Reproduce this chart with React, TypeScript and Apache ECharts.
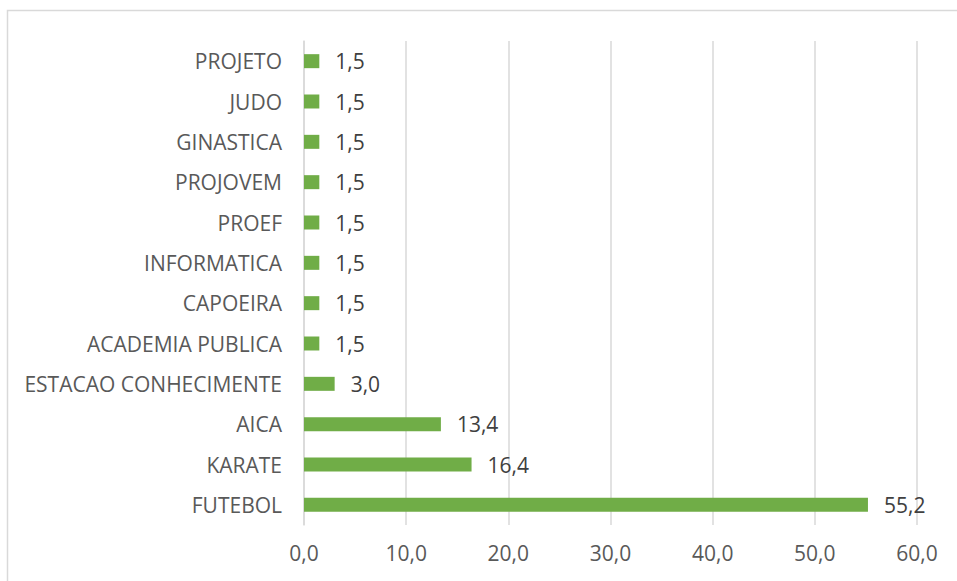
import React, { useEffect, useRef } from "react";
import * as echarts from "echarts";

const categories = [
  "FUTEBOL",
  "KARATE",
  "AICA",
  "ESTACAO CONHECIMENTE",
  "ACADEMIA PUBLICA",
  "CAPOEIRA",
  "INFORMATICA",
  "PROEF",
  "PROJOVEM",
  "GINASTICA",
  "JUDO",
  "PROJETO",
];
const values = [55.2, 16.4, 13.4, 3.0, 1.5, 1.5, 1.5, 1.5, 1.5, 1.5, 1.5, 1.5];

const fmt = (v: number) => v.toFixed(1).replace(".", ",");
const FONT = "'Open Sans', sans-serif";

export default function App() {
  const ref = useRef<HTMLDivElement>(null);
  useEffect(() => {
    if (!ref.current) return;
    const chart = echarts.init(ref.current, undefined, { renderer: "svg" });
    chart.setOption({
      animation: false,
      backgroundColor: "#ffffff",
      graphic: [
        {
          type: "rect",
          shape: { x: 7.5, y: 10.5, width: 1000, height: 1000 },
          style: { fill: "none", stroke: "#d9d9d9", lineWidth: 1.5 },
          silent: true,
        },
      ],
      grid: { left: 304, right: 40, top: 41, bottom: 56, containLabel: false },
      xAxis: {
        type: "value",
        min: 0,
        max: 60,
        interval: 10,
        axisLine: { show: false },
        axisTick: { show: false },
        splitLine: { lineStyle: { color: "#d9d9d9", width: 1.5 } },
        axisLabel: {
          formatter: (v: number) => fmt(v),
          color: "#595959",
          fontSize: 21,
          fontFamily: FONT,
          margin: 17,
        },
      },
      yAxis: {
        type: "category",
        data: categories,
        axisLine: { show: true, lineStyle: { color: "#d9d9d9", width: 1.5 } },
        axisTick: { show: false },
        axisLabel: {
          color: "#595959",
          fontSize: 21,
          fontFamily: FONT,
          margin: 22,
        },
      },
      series: [
        {
          type: "bar",
          data: values,
          barWidth: 14,
          itemStyle: { color: "#70ad47" },
          label: {
            show: true,
            position: "right",
            distance: 16,
            formatter: (p: any) => fmt(p.value),
            color: "#404040",
            fontSize: 21,
            fontFamily: FONT,
          },
        },
      ],
    });
    return () => chart.dispose();
  }, []);
  return (
    <div
      ref={ref}
      style={{ position: "fixed", left: 0, top: 0, width: 957, height: 581 }}
    />
  );
}
